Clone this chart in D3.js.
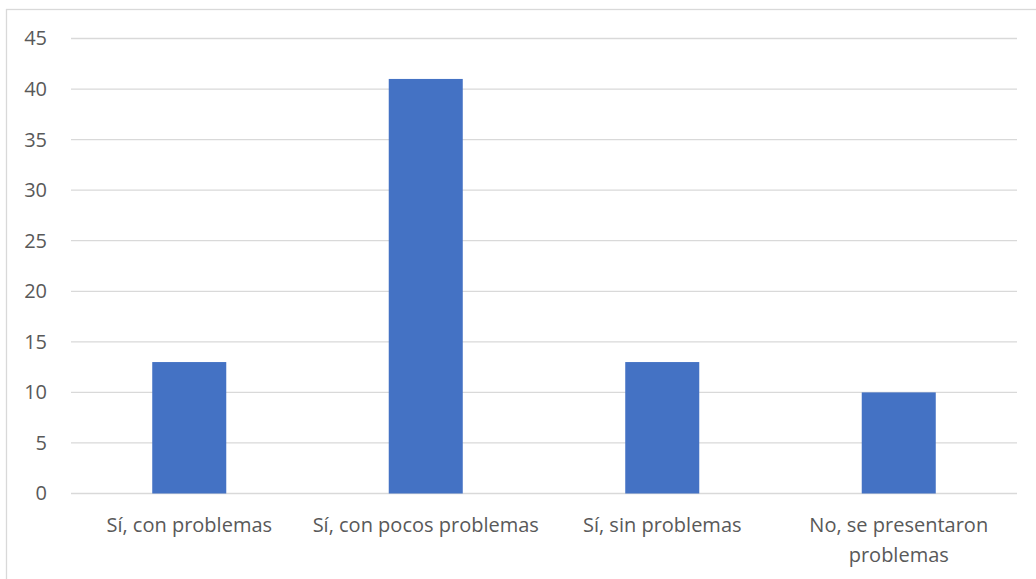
<!DOCTYPE html>
<html>
<head>
<meta charset="utf-8">
<script src="https://cdn.jsdelivr.net/npm/d3@7"></script>
<style>
  body { margin: 0; background: #fff; }
  svg text { font-family: "Open Sans", sans-serif; fill: #595959; }
</style>
</head>
<body>
<div id="chart"></div>
<script>
var categories = ["Sí, con problemas", "Sí, con pocos problemas", "Sí, sin problemas", "No, se presentaron problemas"];
var values = [13, 41, 13, 10];
var yTicks = [0, 5, 10, 15, 20, 25, 30, 35, 40, 45];

var width = 1036, height = 579;
var plotLeft = 71, plotRight = 1017, plotTop = 38.5, plotBottom = 493.5;

var svg = d3.select("#chart").append("svg")
            .attr("width", width)
            .attr("height", height);

// chart border (right and bottom edges fall outside the picture)
svg.append("rect")
   .attr("x", 6.5)
   .attr("y", 9.5)
   .attr("width", 1100)
   .attr("height", 700)
   .attr("fill", "none")
   .attr("stroke", "#d9d9d9")
   .attr("stroke-width", 1.3);

var x = d3.scaleBand()
          .domain(categories)
          .range([plotLeft, plotRight])
          .paddingInner(0.687)
          .paddingOuter(0.3435);

var y = d3.scaleLinear()
          .domain([0, 45])
          .range([plotBottom, plotTop]);

// gridlines
svg.append("g")
   .selectAll("line")
   .data(yTicks)
   .enter().append("line")
   .attr("x1", plotLeft)
   .attr("x2", plotRight)
   .attr("y1", function(d) { return y(d); })
   .attr("y2", function(d) { return y(d); })
   .attr("stroke", "#d9d9d9")
   .attr("stroke-width", 1.3);

// y labels
var yAxis = svg.append("g")
               .attr("transform", "translate(" + (plotLeft - 24) + ",0)")
               .call(d3.axisLeft(y).tickValues(yTicks).tickSize(0).tickPadding(0));
yAxis.select(".domain").remove();
yAxis.selectAll("text")
     .style("font-size", "20px")
     .style("font-family", "'Open Sans', sans-serif")
     .attr("fill", "#595959");

// bars
svg.append("g")
   .selectAll("rect")
   .data(values)
   .enter().append("rect")
   .attr("x", function(d, i) { return x(categories[i]); })
   .attr("y", function(d) { return y(d); })
   .attr("width", x.bandwidth())
   .attr("height", function(d) { return y(0) - y(d); })
   .attr("fill", "#4472c4");

// x labels, wrapped where the band is too narrow
var xAxis = svg.append("g")
               .attr("transform", "translate(0," + plotBottom + ")")
               .call(d3.axisBottom(x).tickSize(0).tickPadding(0));
xAxis.select(".domain").remove();
xAxis.selectAll("text").remove();

var bandStep = x.step();
xAxis.selectAll(".tick").each(function(d) {
  var t = d3.select(this).append("text")
            .attr("text-anchor", "middle")
            .style("font-size", "20px")
            .attr("fill", "#595959")
            .attr("y", 38.5);
  var words = d.split(" ");
  var line = [];
  var tspan = t.append("tspan").attr("x", 0);
  words.forEach(function(w) {
    line.push(w);
    tspan.text(line.join(" "));
    if (tspan.node().getComputedTextLength() > bandStep - 6 && line.length > 1) {
      line.pop();
      tspan.text(line.join(" "));
      line = [w];
      tspan = t.append("tspan").attr("x", 0).attr("dy", 30).text(w);
    }
  });
});
</script>
</body>
</html>
